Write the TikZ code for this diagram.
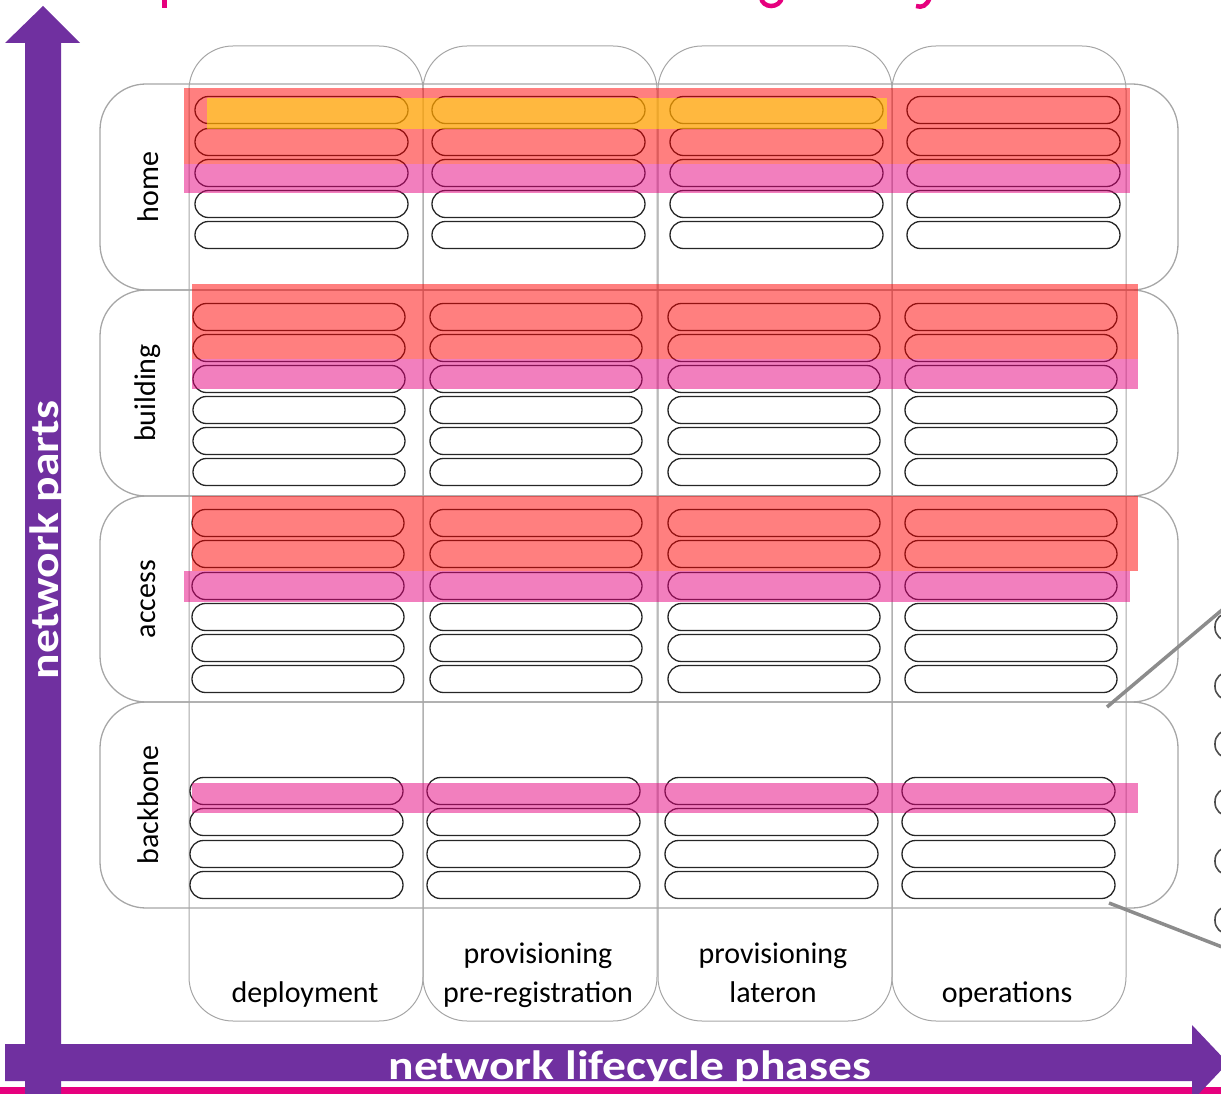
\documentclass[tikz,border=0pt]{standalone}
\usepackage{fontspec}
\setmainfont{Carlito}
\usepackage{tikz}
\usetikzlibrary{positioning}
\definecolor{axispurple}{HTML}{7030A0}
\definecolor{titlemagenta}{HTML}{E6007E}
\definecolor{boxgray}{HTML}{A6A6A6}
\tikzstyle{part box} = [draw = boxgray, line width = 1.3, rounded corners = 46]
\tikzstyle{phase box} = [draw = boxgray, line width = 1, rounded corners = 44]
\tikzstyle{pill} = [draw = black!85, line width = 1.3, rounded corners = 13.4]
\tikzstyle{zoom pill} = [draw = black!70, line width = 1.6, rounded corners = 13.4]
\tikzstyle{red band} = [fill = red, fill opacity = .5]
\tikzstyle{pink band} = [fill = titlemagenta, fill opacity = .5]
\tikzstyle{yellow band} = [fill = yellow, fill opacity = .5]
\tikzstyle{zoom line} = [draw = black!45, line width = 3.5]
\tikzstyle{row label} = [rotate = 90, inner sep = 0, font = \fontsize{30}{36}\selectfont]
\tikzstyle{phase label} = [anchor = base, inner sep = 0, font = \fontsize{30}{36}\selectfont]
\tikzstyle{axis label} = [text = white, inner sep = 0, font = \fontsize{41}{44}\selectfont\bfseries]

\begin{document}
\begin{tikzpicture}[x = 1pt, y = -1pt]
    \useasboundingbox (0, 0) rectangle (1221, 1094);
    \clip (0, 0) rectangle (1221, 1094);

    % descenders of the heading line
    \draw [titlemagenta, line width = 5] (164.5, -3) -- (164.5, 8);
    \draw [titlemagenta, line width = 4.5] (761, -3) .. controls (762, 9) and (780, 9) .. (782, -3);
    \draw [titlemagenta, line width = 4.5] (930, -3) .. controls (927, 6) and (922, 8) .. (916, 6);

    % network parts
    \foreach \y in {84, 290, 496, 702}
    {
        \draw [part box] (100, \y) rectangle ++(1078, 206);
    }

    % lifecycle phases
    \foreach \x in {189, 423, 658, 892}
    {
        \draw [phase box] (\x, 46) rectangle ++(234, 975);
    }

    % home
    \foreach \x in {195, 432, 670, 907}
    {
        \foreach \y in {110, 142, 173, 204, 235}
        {
            \draw [pill] (\x, \y - 13.5) rectangle ++(213, 27);
        }
    }
    % building
    \foreach \x in {193, 430, 668, 905}
    {
        \foreach \y in {317, 348, 379, 410, 441, 472}
        {
            \draw [pill] (\x, \y - 13.5) rectangle ++(212, 27);
        }
    }
    % access
    \foreach \x in {192, 430, 668, 905}
    {
        \foreach \y in {523, 554, 586, 617, 648, 679}
        {
            \draw [pill] (\x, \y - 13.5) rectangle ++(212, 27);
        }
    }
    % backbone
    \foreach \x in {190, 427, 665, 902}
    {
        \foreach \y in {791, 822, 854, 885}
        {
            \draw [pill] (\x, \y - 13.5) rectangle ++(213, 27);
        }
    }

    \fill [red band] (184, 88) rectangle (1130, 164);
    \fill [pink band] (184, 164) rectangle (1130, 193);
    \fill [yellow band] (207, 98) rectangle (887, 129);
    \fill [red band] (192, 284) rectangle (1138, 359);
    \fill [pink band] (192, 359) rectangle (1138, 389);
    \fill [red band] (192, 496) rectangle (1138, 571);
    \fill [pink band] (184, 571) rectangle (1130, 602);
    \fill [pink band] (192, 783) rectangle (1138, 813);

    \node [row label] (home) at (148, 187) {home};
    \node [row label] (building) at (148, 393) {building};
    \node [row label] (access) at (148, 599) {access};
    \node [row label] (backbone) at (148, 805) {backbone};

    \node [phase label] (deployment) at (305, 1002) {deployment};
    \node [phase label] (prereg top) at (538, 963) {provisioning};
    \node [phase label] (prereg) at (538, 1002) {pre-registration};
    \node [phase label] (lateron top) at (773, 963) {provisioning};
    \node [phase label] (lateron) at (773, 1002) {lateron};
    \node [phase label] (operations) at (1007, 1002) {operations};

    % zoomed stack on the right
    \foreach \y in {627, 686, 744, 802, 861, 920}
    {
        \draw [zoom pill] (1215, \y - 14) rectangle ++(80, 28);
    }
    \coordinate (zoom a) at (1107, 707);
    \coordinate (zoom a end) at (1235, 599);
    \coordinate (zoom b) at (1109, 903);
    \coordinate (zoom b end) at (1235, 952);
    \draw [zoom line] (zoom a) -- (zoom a end);
    \draw [zoom line] (zoom b) -- (zoom b end);

    % axes
    \fill [titlemagenta] (0, 1087) rectangle (1221, 1100);
    \fill [axispurple] (5, 1044) -- (1192, 1044) -- (1192, 1025) -- (1228, 1063)
        -- (1192, 1101) -- (1192, 1081) -- (5, 1081) -- cycle;
    \fill [axispurple] (25, 1100) -- (25, 43) -- (5, 43) -- (43, 6) -- (80, 43)
        -- (61, 43) -- (61, 1100) -- cycle;
    \begin{scope}
        \clip (5, 1044) rectangle (1192, 1081);
        \node [axis label, anchor = base] (phases) at (630, 1079)
            {\scalebox{1.16}[1]{network lifecycle phases}};
    \end{scope}
    \begin{scope}
        \clip (25, 43) rectangle (61, 1100);
        \node [axis label, anchor = base, rotate = 90] (parts) at (58, 540)
            {\scalebox{1.16}[1]{network parts}};
    \end{scope}
\end{tikzpicture}
\end{document}
